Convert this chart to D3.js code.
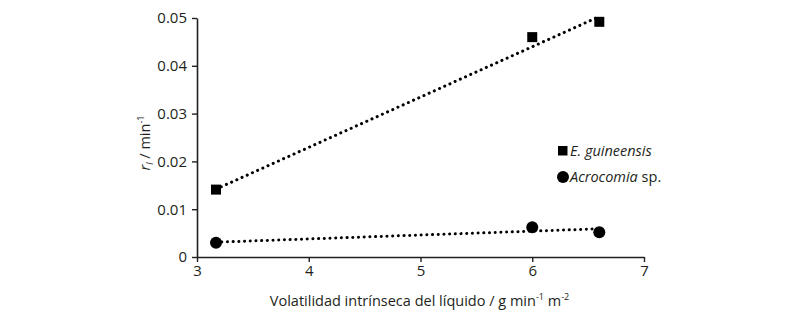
<!DOCTYPE html>
<html>
<head>
<meta charset="utf-8">
<script src="https://cdn.jsdelivr.net/npm/d3@7"></script>
<style>
  body { margin: 0; background: #fff; }
  text { font-family: "Open Sans", "Noto Sans", sans-serif; fill: #231f20; }
</style>
</head>
<body>
<script>
//data
var xVals = [3.17, 6.0, 6.6];
var eguiVals = [0.0141, 0.0460, 0.0492];
var acroVals = [0.0030, 0.0062, 0.0052];

//trend lines (endpoints)
var trendX = [3.17, 6.6];
var eguiTrend = [0.0142, 0.0503];
var acroTrend = [0.0031, 0.0059];

var xTicks = [3, 4, 5, 6, 7];
var yTicks = [0, 0.01, 0.02, 0.03, 0.04, 0.05];

var width = 792, height = 316;

var svg = d3.select("body").append("svg")
    .attr("width", width)
    .attr("height", height);

var x = d3.scaleLinear().domain([3, 7]).range([197, 644]);
var y = d3.scaleLinear().domain([0, 0.05]).range([257, 18]);

var ink = "#231f20";

//axes
var xAxis = svg.append("g")
    .attr("transform", "translate(0," + y(0) + ")")
    .call(d3.axisBottom(x).tickValues(xTicks).tickSize(5).tickSizeOuter(0).tickPadding(3).tickFormat(d3.format("d")));
var yAxis = svg.append("g")
    .attr("transform", "translate(" + x(3) + ",0)")
    .call(d3.axisLeft(y).tickValues(yTicks).tickSize(5).tickSizeOuter(0).tickPadding(5)
        .tickFormat(function(d){ return d === 0 ? "0" : d3.format(".2f")(d); }));

[xAxis, yAxis].forEach(function(a){
    a.select(".domain").attr("stroke", ink).attr("stroke-width", 1.6);
    a.selectAll(".tick line").attr("stroke", ink).attr("stroke-width", 1.4);
    a.selectAll(".tick text").attr("font-size", 15).attr("fill", ink)
        .style("font-family", "'Open Sans', 'Noto Sans', sans-serif");
});

//dotted trend lines
var line = d3.line()
    .x(function(d){ return x(d[0]); })
    .y(function(d){ return y(d[1]); });

[eguiTrend, acroTrend].forEach(function(t){
    svg.append("path")
        .datum(d3.zip(trendX, t))
        .attr("d", line)
        .attr("fill", "none")
        .attr("stroke", "#000")
        .attr("stroke-width", 3)
        .attr("stroke-linecap", "round")
        .attr("stroke-dasharray", "0.1 5.6");
});

//markers
svg.selectAll(".sq")
    .data(d3.zip(xVals, eguiVals))
    .enter().append("rect")
    .attr("class", "sq")
    .attr("x", function(d){ return x(d[0]) - 5; })
    .attr("y", function(d){ return y(d[1]) - 5; })
    .attr("width", 10).attr("height", 10)
    .attr("fill", "#000");

svg.selectAll(".ci")
    .data(d3.zip(xVals, acroVals))
    .enter().append("circle")
    .attr("class", "ci")
    .attr("cx", function(d){ return x(d[0]); })
    .attr("cy", function(d){ return y(d[1]); })
    .attr("r", 6)
    .attr("fill", "#000");

//legend
svg.append("rect").attr("x", 558).attr("y", 146).attr("width", 9.5).attr("height", 9.5).attr("fill", "#000");
svg.append("text").attr("x", 570).attr("y", 156).attr("font-size", 14.5)
    .attr("font-style", "italic").text("E. guineensis");
svg.append("circle").attr("cx", 563).attr("cy", 177).attr("r", 6).attr("fill", "#000");
var lt = svg.append("text").attr("x", 570).attr("y", 182).attr("font-size", 14.5);
lt.append("tspan").attr("font-style", "italic").text("Acrocomia");
lt.append("tspan").text(" sp.");

//axis titles
var xt = svg.append("text")
    .attr("x", x(5) - 1).attr("y", 306)
    .attr("text-anchor", "middle")
    .attr("font-size", 14.5);
xt.append("tspan").text("Volatilidad intrínseca del líquido / g min");
xt.append("tspan").attr("font-size", 9).attr("dy", -6).text("-1");
xt.append("tspan").attr("dy", 6).text(" m");
xt.append("tspan").attr("font-size", 9).attr("dy", -6).text("-2");

var yt = svg.append("text")
    .attr("transform", "translate(150,143) rotate(-90)")
    .attr("text-anchor", "middle")
    .attr("font-size", 14.5);
yt.append("tspan").attr("font-style", "italic").text("r");
yt.append("tspan").attr("font-style", "italic").attr("font-size", 9).attr("dy", 3).text("l");
yt.append("tspan").attr("dy", -3).text(" / min");
yt.append("tspan").attr("font-size", 9).attr("dy", -6).text("-1");
</script>
</body>
</html>
